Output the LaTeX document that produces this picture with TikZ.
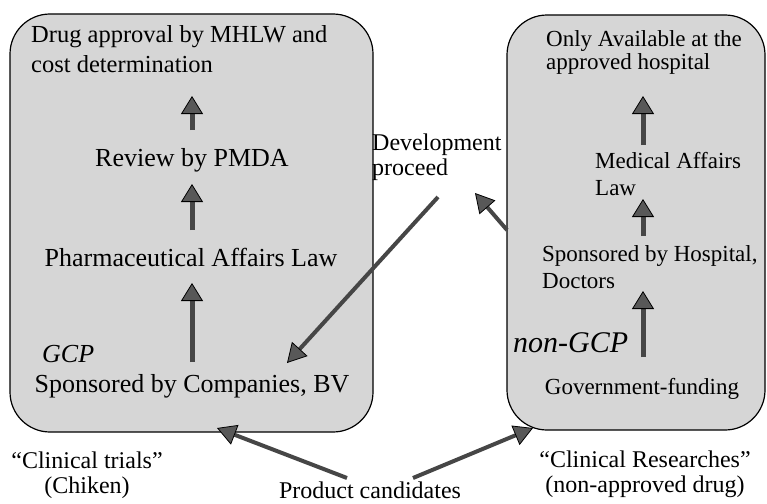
\documentclass[tikz,border=0pt]{standalone}
\usepackage{fontspec}
\setmainfont{Liberation Serif}
\usetikzlibrary{arrows.meta}
\definecolor{boxfill}{RGB}{214,214,214}
\definecolor{arrowfill}{RGB}{88,88,88}
\definecolor{shaftcol}{RGB}{70,70,70}
\tikzset{
  panel/.style={draw=black, line width=1.2pt, fill=boxfill, rounded corners=40pt, inner sep=0pt},
  lbl/.style={inner sep=0pt, anchor=base},
  fa/.style={font=\fontsize{24.5}{29}\selectfont},
  fb/.style={font=\fontsize{26}{30}\selectfont},
  fc/.style={font=\fontsize{23}{23.5}\selectfont},
  fd/.style={font=\fontsize{23}{26.7}\selectfont},
  fe/.style={font=\fontsize{24}{25}\selectfont},
  fgcp/.style={font=\fontsize{26}{30}\selectfont\itshape},
  fngcp/.style={font=\fontsize{30}{34}\selectfont\itshape},
  uparrow/.style={draw=shaftcol, line width=5pt, -{Triangle[length=18pt,width=22pt,fill=arrowfill,color=black,line width=0.8pt]}},
  diagarrow/.style={draw=shaftcol, line width=4pt, -{Triangle[length=19pt,width=21pt,fill=arrowfill,color=black,line width=0.8pt]}},
}
\begin{document}
\begin{tikzpicture}[x=1pt,y=-1pt]
\useasboundingbox (0,0) rectangle (767,503);
% panels
\node[panel, minimum width=363pt, minimum height=418pt] (L) at (191.5,223) {};
\node[panel, minimum width=258pt, minimum height=415pt] (R) at (636,222.5) {};
% left panel texts (multi-line nodes: base = last line)
\node[lbl, fa, anchor=base west, align=left] (l1) at (31,72) {Drug approval by MHLW and\\cost determination};
\node[lbl, fb] (l2) at (192,166) {Review by PMDA};
\node[lbl, fb] (l3) at (191,266) {Pharmaceutical Affairs Law};
\node[lbl, fgcp, anchor=base west] (gcp) at (42,362) {GCP};
\node[lbl, fb] (l4) at (192,392) {Sponsored by Companies, BV};
% right panel texts
\node[lbl, fc, anchor=base west, align=left] (r1) at (546,70) {Only Available at the\\approved hospital};
\node[lbl, fd, anchor=base west, align=left] (r2) at (595,195) {Medical Affairs\\Law};
\node[lbl, fd, anchor=base west, align=left] (r3) at (542,288) {Sponsored by Hospital,\\Doctors};
\node[lbl, fngcp, anchor=base west] (ngcp) at (513,352) {non-GCP};
\node[lbl, fc] (r4) at (642,394) {Government-funding};
% middle and bottom texts
\node[lbl, fe, anchor=base west, align=left] (dev) at (372,175) {Development\\proceed};
\node[lbl, fe, align=center] (ct) at (87,493) {“Clinical trials”\\(Chiken)};
\node[lbl, fe] (pc) at (370,498) {Product candidates};
\node[lbl, fe, align=center] (cr) at (645,492) {“Clinical Researches”\\(non-approved drug)};
% arrow end points
\coordinate (a1s) at (192,130); \coordinate (a1e) at (192,96);
\coordinate (a2s) at (192,230); \coordinate (a2e) at (192,184);
\coordinate (a3s) at (192,362); \coordinate (a3e) at (192,283);
\coordinate (b1s) at (643,145); \coordinate (b1e) at (643,96);
\coordinate (b2s) at (643,236); \coordinate (b2e) at (643,199);
\coordinate (b3s) at (643,357); \coordinate (b3e) at (643,291);
\coordinate (devtail) at (438,197); \coordinate (gcptip) at (287,363);
\coordinate (rtail) at (507,230); \coordinate (devtip) at (475,193);
\coordinate (pcl) at (347,478); \coordinate (ltip) at (217,428);
\coordinate (pcr) at (413,478); \coordinate (rtip) at (533,428);
% arrows
\draw[uparrow] (a1s) -- (a1e);
\draw[uparrow] (a2s) -- (a2e);
\draw[uparrow] (a3s) -- (a3e);
\draw[uparrow] (b1s) -- (b1e);
\draw[uparrow] (b2s) -- (b2e);
\draw[uparrow] (b3s) -- (b3e);
\draw[diagarrow] (devtail) -- (gcptip);
\draw[diagarrow] (rtail) -- (devtip);
\draw[diagarrow] (pcl) -- (ltip);
\draw[diagarrow] (pcr) -- (rtip);
\end{tikzpicture}
\end{document}
